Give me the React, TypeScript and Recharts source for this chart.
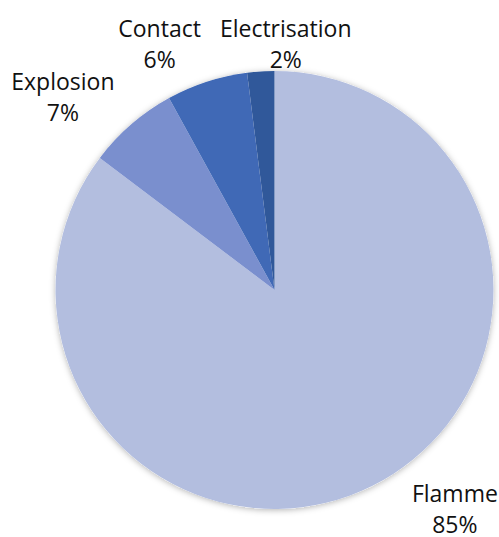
import React from 'react';
import { PieChart, Pie, Cell } from 'recharts';

const categories = ['Flamme', 'Explosion', 'Contact', 'Electrisation'];
const values = [85.3, 6.7, 6.0, 2.0];
const colors = ['#B3BEDF', '#7A8FCE', '#4069B6', '#30589A'];

// label placement tweaks (radial offset beyond the pie, angular nudge in degrees)
const labelRadiusOffset = [71, 62, 45, 19];
const labelAngleNudge = [12, 8, 7.8, -6.3];

const data = categories.map((name, i) => ({ name, value: values[i] }));
const total = values.reduce((a, b) => a + b, 0);
const backdrop = [{ name: 'all', value: total }];

const RAD = Math.PI / 180;

const renderLabel = (props: any) => {
  const { cx, cy, midAngle, outerRadius, index, percent } = props;
  const a = (midAngle + labelAngleNudge[index]) * RAD;
  const r = outerRadius + labelRadiusOffset[index];
  const x = cx + r * Math.cos(a);
  const y = cy - r * Math.sin(a);
  return (
    <text
      x={x}
      y={y}
      textAnchor="middle"
      fill="#111"
      fontFamily="'Open Sans', sans-serif"
      fontSize={23}
    >
      <tspan x={x} dy={-15}>{categories[index]}</tspan>
      <tspan x={x} dy={31}>{`${Math.round(percent * 100)}%`}</tspan>
    </text>
  );
};

export default function App() {
  return (
    <div style={{ position: 'absolute', left: 0, top: 0, width: 499, height: 537, background: '#fff' }}>
      <svg width={0} height={0} style={{ position: 'absolute' }}>
        <defs>
          <filter id="pieShadow" x="-20%" y="-20%" width="140%" height="140%">
            <feDropShadow dx="0" dy="1" stdDeviation="3" floodColor="#000" floodOpacity="0.3" />
          </filter>
        </defs>
      </svg>
      <PieChart width={499} height={537} margin={{ top: 0, right: 0, bottom: 0, left: 0 }}>
        <Pie
          data={backdrop}
          dataKey="value"
          cx={274.5}
          cy={290}
          outerRadius={219}
          startAngle={90}
          endAngle={-270}
          stroke="none"
          isAnimationActive={false}
        >
          <Cell fill="#fff" filter="url(#pieShadow)" />
        </Pie>
        <Pie
          data={data}
          dataKey="value"
          nameKey="name"
          cx={274.5}
          cy={290}
          outerRadius={219}
          startAngle={90}
          endAngle={-270}
          stroke="none"
          labelLine={false}
          label={renderLabel}
          isAnimationActive={false}
        >
          {data.map((d, i) => (
            <Cell key={d.name} fill={colors[i]} />
          ))}
        </Pie>
      </PieChart>
    </div>
  );
}
